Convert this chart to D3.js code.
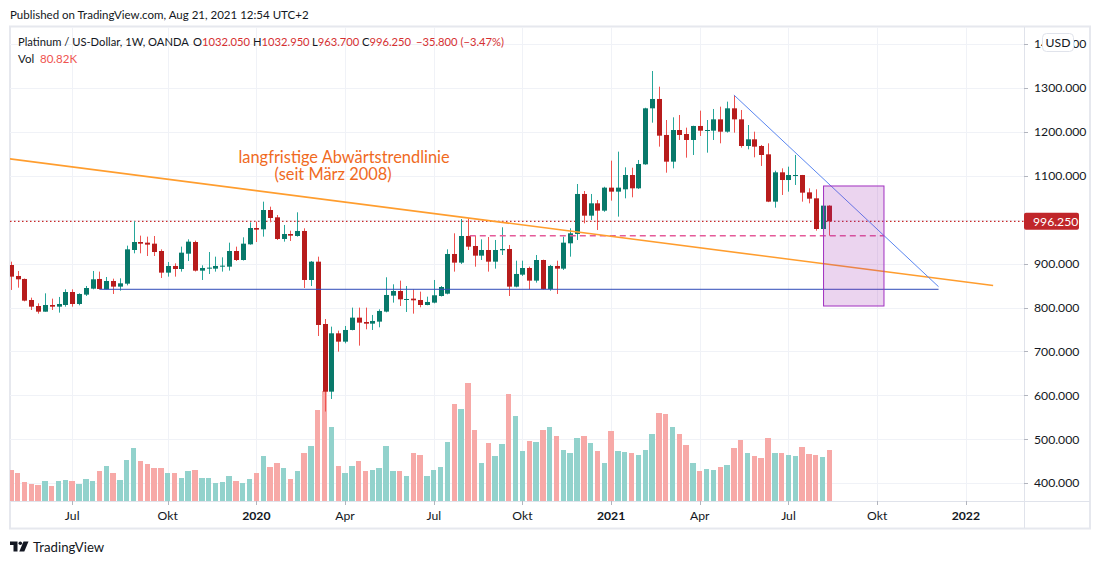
<!DOCTYPE html>
<html>
<head>
<meta charset="utf-8">
<script src="https://cdn.jsdelivr.net/npm/d3@7"></script>
<style>
  body { margin: 0; background: #fff; }
  svg text { font-family: Lato, "Noto Sans", sans-serif; }
</style>
</head>
<body>
<div id="chart"></div>
<script>
// weekly candles, first bar = week of 2019-04-29
var firstWeek = "2019-04-29";
var opens = [
  896.8, 871.8, 865.0, 817.1, 803.4, 790.5, 805.7, 801.9, 805.7, 835.3,
  808.0, 829.3, 842.9, 865.0, 841.4, 860.4, 847.5, 854.3, 931.0, 949.2,
  947.7, 945.4, 928.7, 879.4, 894.6, 887.7, 922.6, 949.2, 883.9, 888.5,
  888.5, 893.0, 893.0, 928.7, 908.2, 943.9, 981.1, 978.1, 1022.1, 1005.4,
  956.1, 967.4, 962.9, 974.3, 862.7, 904.4, 762.4, 608.3, 741.2, 722.2,
  748.8, 776.9, 767.0, 763.2, 767.8, 790.6, 827.0, 837.6, 817.9, 820.2,
  817.1, 805.7, 811.1, 826.2, 831.5, 921.9, 902.2, 962.9, 940.1, 918.1,
  931.0, 904.4, 930.3, 933.3, 847.5, 874.8, 890.0, 861.2, 908.2, 842.2,
  894.6, 888.5, 946.2, 967.5, 1058.6, 1009.2, 1037.3, 1020.6, 1073.0, 1063.9,
  1069.2, 1101.8, 1071.5, 1126.1, 1253.7, 1275.0, 1193.0, 1132.2, 1204.3, 1195.2,
  1181.6, 1213.5, 1202.8, 1202.8, 1228.6, 1200.5, 1253.7, 1228.6, 1167.9, 1183.1,
  1167.9, 1148.9, 1041.1, 1107.9, 1090.4, 1100.3, 1101.8, 1062.3, 1048.7, 978.8,
  1032.05
];
var highs = [
  904.4, 883.2, 866.0, 822.4, 809.5, 832.3, 820.2, 824.0, 841.4, 841.4,
  832.3, 849.0, 883.2, 881.7, 869.5, 865.7, 866.5, 940.9, 997.1, 963.7,
  961.4, 962.9, 932.5, 903.7, 900.6, 938.6, 955.3, 952.3, 896.1, 926.4,
  915.8, 914.3, 947.7, 938.6, 959.9, 994.0, 995.5, 1041.1, 1029.7, 1010.7,
  988.0, 975.0, 1016.8, 980.4, 905.9, 915.8, 773.8, 756.4, 747.3, 757.9,
  799.7, 799.7, 799.7, 783.0, 795.9, 868.8, 852.8, 861.2, 849.0, 841.4,
  836.1, 824.7, 862.7, 849.0, 932.5, 969.0, 1001.6, 1003.2, 962.9, 955.3,
  960.6, 953.8, 982.7, 942.4, 906.7, 906.7, 893.1, 919.6, 909.0, 896.9,
  906.7, 961.4, 980.4, 1081.3, 1065.4, 1058.6, 1044.9, 1075.0, 1134.5, 1155.0,
  1119.3, 1118.5, 1136.0, 1255.0, 1338.7, 1303.0, 1227.1, 1233.2, 1238.5, 1209.7,
  1214.0, 1248.4, 1227.1, 1252.2, 1257.5, 1268.9, 1284.1, 1249.9, 1215.7, 1200.5,
  1170.2, 1174.0, 1111.7, 1117.0, 1120.8, 1147.4, 1102.0, 1071.5, 1069.2, 1033.0,
  1032.95
];
var lows = [
  840.0, 845.2, 814.0, 794.3, 786.0, 790.5, 794.3, 788.3, 801.9, 801.9,
  805.0, 826.2, 841.4, 841.4, 841.4, 830.8, 838.4, 850.5, 923.4, 923.4,
  917.3, 917.3, 867.2, 870.3, 870.3, 881.7, 905.9, 882.0, 862.7, 876.3,
  881.7, 881.7, 884.0, 905.9, 907.0, 943.0, 949.2, 961.4, 994.0, 953.8,
  950.0, 951.5, 961.4, 844.4, 849.0, 735.1, 563.0, 591.6, 699.4, 718.4,
  748.0, 713.1, 750.3, 748.8, 754.9, 789.0, 811.1, 803.5, 789.8, 786.0,
  800.4, 805.0, 809.5, 825.0, 830.0, 881.7, 899.1, 931.0, 893.0, 908.2,
  881.7, 888.5, 919.6, 826.2, 846.0, 871.8, 841.4, 856.6, 841.0, 838.4,
  830.8, 885.5, 915.8, 953.8, 991.7, 999.3, 976.6, 1018.0, 1043.4, 1007.0,
  1048.7, 1051.0, 1070.0, 1125.0, 1221.0, 1166.4, 1107.1, 1117.0, 1181.6, 1141.3,
  1147.4, 1190.7, 1152.7, 1181.6, 1174.0, 1198.3, 1198.3, 1164.1, 1160.3, 1142.1,
  1122.4, 1040.0, 1027.4, 1056.3, 1063.9, 1079.1, 1041.1, 1037.3, 975.0, 975.0,
  963.7
];
var closes = [
  870.3, 864.2, 815.6, 801.9, 790.5, 805.7, 801.9, 808.0, 835.3, 808.0,
  830.8, 844.4, 864.2, 842.2, 860.4, 847.5, 855.1, 932.5, 949.2, 945.4,
  943.2, 926.4, 879.4, 894.6, 887.7, 924.9, 950.0, 883.9, 890.0, 890.8,
  894.6, 895.3, 928.7, 908.2, 945.4, 981.1, 977.3, 1022.1, 1003.9, 956.1,
  967.4, 963.7, 974.3, 862.7, 904.4, 760.2, 608.2, 741.2, 722.2, 748.8,
  776.9, 765.5, 763.2, 769.3, 792.1, 828.5, 837.6, 818.6, 819.4, 816.4,
  805.7, 812.6, 827.8, 846.7, 921.9, 902.2, 962.9, 938.6, 918.1, 931.0,
  904.4, 931.0, 933.3, 847.5, 876.4, 890.0, 861.2, 908.2, 842.2, 894.6,
  888.5, 947.7, 969.0, 1058.6, 1009.2, 1037.3, 1020.6, 1073.0, 1063.9, 1073.0,
  1101.8, 1071.5, 1126.9, 1253.7, 1275.0, 1191.4, 1132.2, 1204.3, 1193.0, 1181.6,
  1213.5, 1202.8, 1204.3, 1228.6, 1200.5, 1253.7, 1228.6, 1167.9, 1183.1, 1166.4,
  1147.4, 1041.1, 1107.9, 1090.4, 1101.8, 1101.8, 1061.6, 1047.9, 978.8, 1032.05,
  996.25
];
// volume in thousands
var volumes = [
  49.1, 44.4, 30.1, 26.9, 25.3, 31.7, 23.8, 31.7, 33.3, 31.7,
  26.9, 34.8, 31.7, 47.5, 55.4, 44.4, 33.3, 64.9, 84.0, 63.4,
  58.6, 52.3, 52.3, 44.4, 44.4, 36.4, 47.5, 49.1, 36.4, 36.4,
  28.5, 30.1, 39.6, 31.7, 28.5, 34.8, 44.4, 71.3, 53.9, 60.2,
  52.3, 34.8, 47.5, 76.0, 87.1, 144.1, 174.2, 117.2, 55.4, 44.4,
  55.4, 63.4, 47.5, 49.1, 52.3, 87.1, 47.5, 47.5, 39.6, 76.0,
  72.9, 39.6, 49.1, 53.9, 93.5, 153.6, 145.7, 186.9, 112.5, 60.2,
  91.9, 71.3, 90.3, 169.5, 134.6, 79.2, 95.0, 93.5, 112.5, 117.2,
  103.0, 80.8, 76.0, 99.8, 103.0, 91.9, 79.2, 60.2, 110.9, 79.2,
  77.6, 76.0, 72.9, 80.8, 106.1, 139.4, 137.8, 117.2, 106.1, 88.7,
  60.2, 47.5, 50.7, 49.1, 53.9, 57.0, 84.0, 96.6, 76.0, 71.3,
  68.1, 99.8, 76.0, 76.0, 72.9, 71.3, 85.5, 74.4, 72.9, 69.7,
  80.82
];

var tickMonths = ["2019-07", "2019-10", "2020-01", "2020-04", "2020-07", "2020-10",
                  "2021-01", "2021-04", "2021-07", "2021-10", "2022-01"];
var tickLabels = ["Jul", "Okt", "2020", "Apr", "Jul", "Okt", "2021", "Apr", "Jul", "Okt", "2022"];
var priceTicks = [400, 500, 600, 700, 800, 900, 1000, 1100, 1200, 1300, 1400];
var lastPrice = 996.25;

// drawings (date, price)
var trendLong = [["2019-04-28", 1138.5], ["2022-01-31", 850.0]];
var trendShort = [["2021-05-10", 1284.1], ["2021-12-06", 847.4]];
var supportLine = [["2019-07-29", 841.5], ["2021-12-06", 841.5]];
var lowLine = [["2020-08-12", 963.7], ["2021-10-11", 963.7]];
var boxZone = [["2021-08-10", 1076.8], ["2021-10-11", 803.4]];
var noteAt = ["2020-04-05", 1129.5];
var noteLines = ["langfristige Abwärtstrendlinie", "(seit März 2008)"];

var parse = d3.utcParse("%Y-%m-%d");
var start = parse(firstWeek);
var bars = opens.map((o, i) => ({
  date: d3.utcMonday.offset(start, i),
  o: o, h: highs[i], l: lows[i], c: closes[i], v: volumes[i]
}));

var W = 1100, H = 564;
var L = 10, R = 1024, T = 27, B = 501;

var svg = d3.select("#chart").append("svg")
    .attr("width", W)
    .attr("height", H);

var x = d3.scaleUtc()
    .domain([start, bars[bars.length - 1].date])
    .range([10.8, 829.4]);
var y = d3.scaleLinear().domain([400, 1300]).range([483.1, 88]);
var vy = d3.scaleLinear().domain([0, 80.82]).range([B, 450]);

var green = "#08796a", red = "#b71c1c";
var greenWick = "#26a69a", redWick = "#ef5350";

svg.append("defs").append("clipPath").attr("id", "pane")
  .append("rect").attr("x", L).attr("y", T).attr("width", R - L).attr("height", B - T);

// header
svg.append("text").attr("x", 10).attr("y", 18.5)
    .attr("font-size", 11.5).attr("fill", "#131722")
    .text("Published on TradingView.com, Aug 21, 2021 12:54 UTC+2");

// frame
svg.append("rect").attr("x", L).attr("y", T - 0.5).attr("width", 1080).attr("height", 502)
    .attr("fill", "none").attr("stroke", "#e6e8ee").attr("stroke-width", 2);

var tickDates = tickMonths.map(m => d3.utcMonday.ceil(parse(m + "-01")));

// grid
var grid = svg.append("g").attr("stroke", "#f0f2f7").attr("stroke-width", 1);
grid.selectAll("line.h").data(priceTicks).enter().append("line")
    .attr("x1", L).attr("x2", R)
    .attr("y1", d => Math.round(y(d)) + 0.5).attr("y2", d => Math.round(y(d)) + 0.5);
grid.selectAll("line.v").data(tickDates).enter().append("line")
    .attr("y1", T).attr("y2", B)
    .attr("x1", d => Math.round(x(d)) + 0.5).attr("x2", d => Math.round(x(d)) + 0.5);

var pane = svg.append("g").attr("clip-path", "url(#pane)");

// volume
pane.selectAll("rect.vol").data(bars).enter().append("rect")
    .attr("x", d => x(d.date) - 2.7)
    .attr("width", 5.4)
    .attr("y", d => vy(d.v))
    .attr("height", d => B - vy(d.v))
    .attr("fill", d => d.c >= d.o ? "#92d2cc" : "#f7a9a7")
    .attr("shape-rendering", "crispEdges");

// last price line
pane.append("line")
    .attr("x1", L).attr("x2", R)
    .attr("y1", y(lastPrice)).attr("y2", y(lastPrice))
    .attr("stroke", "#c62828").attr("stroke-width", 1.2)
    .attr("stroke-dasharray", "1.5,2.5");

// candles
var candle = pane.selectAll("g.candle").data(bars).enter().append("g");
candle.append("line")
    .attr("x1", d => Math.round(x(d.date)) + 0.5).attr("x2", d => Math.round(x(d.date)) + 0.5)
    .attr("y1", d => y(d.h)).attr("y2", d => y(d.l))
    .attr("stroke", d => d.c >= d.o ? greenWick : redWick).attr("stroke-width", 1);
candle.append("rect")
    .attr("x", d => Math.round(x(d.date)) - 2)
    .attr("width", 5)
    .attr("y", d => y(Math.max(d.o, d.c)))
    .attr("height", d => Math.max(1, Math.abs(y(d.o) - y(d.c))))
    .attr("fill", d => d.c >= d.o ? green : red);

// drawings
function seg(pts, color, w, dash) {
  pane.append("line")
      .attr("x1", x(parse(pts[0][0]))).attr("y1", y(pts[0][1]))
      .attr("x2", x(parse(pts[1][0]))).attr("y2", y(pts[1][1]))
      .attr("stroke", color).attr("stroke-width", w)
      .attr("stroke-dasharray", dash || null);
}
seg(supportLine, "#2f4bb8", 1);
seg(lowLine, "#e45b99", 1.5, "6,4");
seg(trendLong, "#ff9d2e", 1.6);
seg(trendShort, "#5a86f0", 1);

pane.append("rect")
    .attr("x", x(parse(boxZone[0][0])))
    .attr("y", y(boxZone[0][1]))
    .attr("width", x(parse(boxZone[1][0])) - x(parse(boxZone[0][0])))
    .attr("height", y(boxZone[1][1]) - y(boxZone[0][1]))
    .attr("fill", "rgba(156,39,176,0.2)")
    .attr("stroke", "#a030c0").attr("stroke-width", 1);

var note = svg.append("text")
    .attr("x", x(parse(noteAt[0]))).attr("y", y(noteAt[1]))
    .attr("font-size", 16.4).attr("fill", "#f06a1e").attr("text-anchor", "middle");
note.selectAll("tspan").data(noteLines).enter().append("tspan")
    .attr("x", (d, i) => x(parse(noteAt[0])) - i * 11)
    .attr("dy", (d, i) => i ? 17 : 0)
    .text(d => d);

// legend
var leg = svg.append("text").attr("x", 18).attr("y", 45.5).attr("font-size", 11.2).attr("fill", "#131722");
leg.append("tspan").text("Platinum / US-Dollar, 1W, OANDA");
var ohlc = [["O", "1032.050"], ["H", "1032.950"], ["L", "963.700"], ["C", "996.250"]];
var ohlcX = [193, 253, 312, 362];
ohlc.forEach(function(p, i) {
  leg.append("tspan").attr("x", ohlcX[i]).text(p[0]);
  leg.append("tspan").attr("fill", "#d63031").text(p[1]);
});
leg.append("tspan").attr("x", 416).attr("fill", "#d63031").text("\u221235.800 (\u22123.47%)");
var vol = svg.append("text").attr("x", 18).attr("y", 62.5).attr("font-size", 11.5).attr("fill", "#131722");
vol.append("tspan").text("Vol");
vol.append("tspan").attr("x", 40).attr("fill", "#ef5350").text("80.82K");

// axes lines
svg.append("line").attr("x1", R + 0.5).attr("x2", R + 0.5).attr("y1", T).attr("y2", 528)
    .attr("stroke", "#e0e3eb");
svg.append("line").attr("x1", L).attr("x2", 1090).attr("y1", B + 0.5).attr("y2", B + 0.5)
    .attr("stroke", "#e0e3eb");

// price axis
var fmt = d3.format(".3f");
var pa = svg.append("g");
var shown = priceTicks.filter(p => Math.abs(y(p) - y(lastPrice)) > 14);
pa.selectAll("line").data(shown).enter().append("line")
    .attr("x1", R).attr("x2", R + 4)
    .attr("y1", d => Math.round(y(d)) + 0.5).attr("y2", d => Math.round(y(d)) + 0.5)
    .attr("stroke", "#b2b5be");
pa.selectAll("text").data(shown).enter().append("text")
    .attr("x", 1034).attr("y", d => y(d) + 4.3)
    .attr("font-size", 12.2).attr("fill", "#131722")
    .text(d => fmt(d));

pa.append("rect").attr("x", R).attr("y", y(lastPrice) - 8.5).attr("width", 55).attr("height", 17)
    .attr("rx", 2).attr("fill", "#c0262a");
pa.append("text").attr("x", 1033).attr("y", y(lastPrice) + 4.3)
    .attr("font-size", 12.2).attr("fill", "#fff").text(fmt(lastPrice));

// currency badge sits over the top price label, as in the original
pa.append("rect").attr("x", 1042.5).attr("y", 33.5).attr("width", 31).attr("height", 18)
    .attr("rx", 4).attr("fill", "#fff").attr("stroke", "#e0e3eb");
pa.append("text").attr("x", 1058).attr("y", 47).attr("text-anchor", "middle")
    .attr("font-size", 12.2).attr("fill", "#131722").text("USD");

// time axis
var ta = svg.append("g");
ta.selectAll("line").data(tickDates).enter().append("line")
    .attr("x1", d => Math.round(x(d)) + 0.5).attr("x2", d => Math.round(x(d)) + 0.5)
    .attr("y1", B).attr("y2", B + 4).attr("stroke", "#b2b5be");
ta.selectAll("text").data(tickDates).enter().append("text")
    .attr("x", d => x(d)).attr("y", 519.5)
    .attr("text-anchor", "middle").attr("font-size", 12.2)
    .attr("font-weight", (d, i) => /^\d/.test(tickLabels[i]) ? "bold" : "normal")
    .attr("fill", "#131722")
    .text((d, i) => tickLabels[i]);

// footer logo
var logo = svg.append("g").attr("fill", "#131722");
logo.append("path").attr("d", "M10,541.5 H17.5 V551.5 H13.5 V545 H10 Z");
logo.append("circle").attr("cx", 20.3).attr("cy", 543.3).attr("r", 1.8);
logo.append("path").attr("d", "M23.5,541.5 H28.5 L24.3,551.5 H19.3 Z");
svg.append("text").attr("x", 33).attr("y", 551.5).attr("font-size", 13.2).attr("fill", "#131722")
    .text("TradingView");
</script>
</body>
</html>
